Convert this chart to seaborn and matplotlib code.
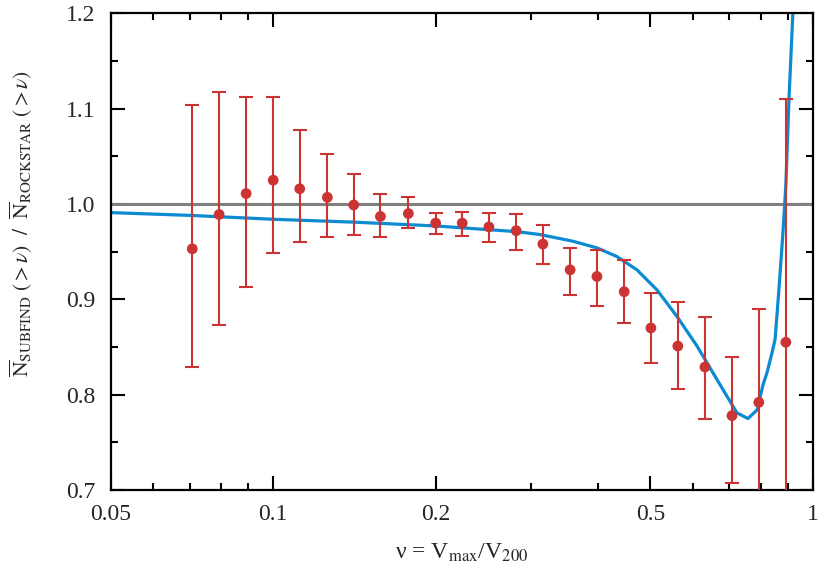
import matplotlib
matplotlib.use('Agg')
import matplotlib.pyplot as plt
import matplotlib.ticker as mticker
import numpy as np
import pandas as pd
import seaborn as sns

# ratio of cumulative counts
nu = [0.0708, 0.0794, 0.0891, 0.100, 0.112, 0.126, 0.141, 0.158, 0.178, 0.200,
      0.224, 0.251, 0.282, 0.316, 0.355, 0.398, 0.447, 0.501, 0.562, 0.631,
      0.708, 0.794, 0.891]
ratio = [0.953, 0.989, 1.011, 1.025, 1.016, 1.007, 0.999, 0.987, 0.990, 0.980,
         0.980, 0.976, 0.972, 0.958, 0.931, 0.924, 0.908, 0.870, 0.851, 0.829,
         0.778, 0.792, 0.855]
err_hi = [1.104, 1.117, 1.112, 1.112, 1.078, 1.052, 1.031, 1.011, 1.007, 0.991,
          0.992, 0.991, 0.990, 0.978, 0.954, 0.952, 0.941, 0.907, 0.897, 0.881,
          0.840, 0.890, 1.110]
err_lo = [0.829, 0.873, 0.913, 0.949, 0.960, 0.965, 0.968, 0.965, 0.975, 0.969,
          0.966, 0.960, 0.952, 0.937, 0.905, 0.893, 0.875, 0.833, 0.806, 0.774,
          0.707, 0.600, 0.600]

# model curve
curve_x = [0.050, 0.0707, 0.100, 0.141, 0.200, 0.283, 0.312, 0.359, 0.398, 0.433,
           0.472, 0.514, 0.560, 0.610, 0.664, 0.723, 0.758, 0.788, 0.808, 0.822,
           0.840, 0.851, 0.865, 0.880, 0.891, 0.903, 0.918, 0.934]
curve_y = [0.991, 0.988, 0.984, 0.981, 0.977, 0.971, 0.968, 0.961, 0.954, 0.945,
           0.931, 0.910, 0.882, 0.851, 0.816, 0.781, 0.775, 0.784, 0.810, 0.823,
           0.844, 0.858, 0.910, 0.970, 1.020, 1.110, 1.200, 1.300]

xticks = [0.05, 0.1, 0.2, 0.5, 1]
xtick_labels = ['0.05', '0.1', '0.2', '0.5', '1']
xminor = [0.06, 0.07, 0.08, 0.09, 0.3, 0.4, 0.6, 0.7, 0.8, 0.9]
yticks = [0.7, 0.8, 0.9, 1.0, 1.1, 1.2]

red = '#cc3333'
blue = '#0a8bd2'

sns.set_style('ticks')
plt.rcParams['font.family'] = ['Liberation Serif', 'DejaVu Serif']
plt.rcParams['mathtext.fontset'] = 'stix'

fig = plt.figure(figsize=(8.3, 5.81), dpi=100)
ax = fig.add_axes([0.1334, 0.1566, 0.846, 0.8204])

df_pts = pd.DataFrame({'nu': nu, 'ratio': ratio})
df_curve = pd.DataFrame({'nu': curve_x, 'ratio': curve_y})

ax.axhline(1.0, color='#808080', lw=2.2, zorder=1)
sns.lineplot(data=df_curve, x='nu', y='ratio', color=blue, lw=2.3, ax=ax, zorder=2)
yerr = [np.array(ratio) - np.array(err_lo), np.array(err_hi) - np.array(ratio)]
ax.errorbar(nu, ratio, yerr=yerr, fmt='none', ecolor=red, elinewidth=1.5,
            capsize=5.3, capthick=1.5, zorder=3)
sns.scatterplot(data=df_pts, x='nu', y='ratio', color=red, s=60, edgecolor='none',
                ax=ax, zorder=4)

ax.set_xscale('log')
ax.set_xlim(0.05, 1)
ax.set_ylim(0.7, 1.2)
ax.xaxis.set_major_locator(mticker.FixedLocator(xticks))
ax.xaxis.set_major_formatter(mticker.FixedFormatter(xtick_labels))
ax.xaxis.set_minor_locator(mticker.FixedLocator(xminor))
ax.xaxis.set_minor_formatter(mticker.NullFormatter())
ax.set_yticks(yticks)
ax.set_yticklabels([f'{v:.1f}' for v in yticks])
ax.yaxis.set_minor_locator(mticker.MultipleLocator(0.05))

ax.tick_params(which='both', direction='in', top=True, right=True, width=1.5,
               color='black', labelsize=17)
ax.tick_params(which='major', length=10)
ax.tick_params(which='minor', length=5)
ax.tick_params(axis='x', which='major', pad=10)
ax.tick_params(axis='y', which='major', pad=11)
for s in ax.spines.values():
    s.set_linewidth(1.6)
    s.set_color('black')
    s.set_visible(True)

ax.set_xlabel('ν = V$_{\\mathrm{max}}$/V$_{200}$', fontsize=17, labelpad=12)
ax.set_ylabel(r'$\overline{\mathrm{N}}_{\mathrm{SUBFIND}}\ (>\nu)\ \ /\ \ '
              r'\overline{\mathrm{N}}_{\mathrm{ROCKSTAR}}\ (>\nu)$', fontsize=15.5)
ax.yaxis.set_label_coords(-0.108, 0.56)
ax.grid(False)

fig.savefig('out.png', dpi=100)
